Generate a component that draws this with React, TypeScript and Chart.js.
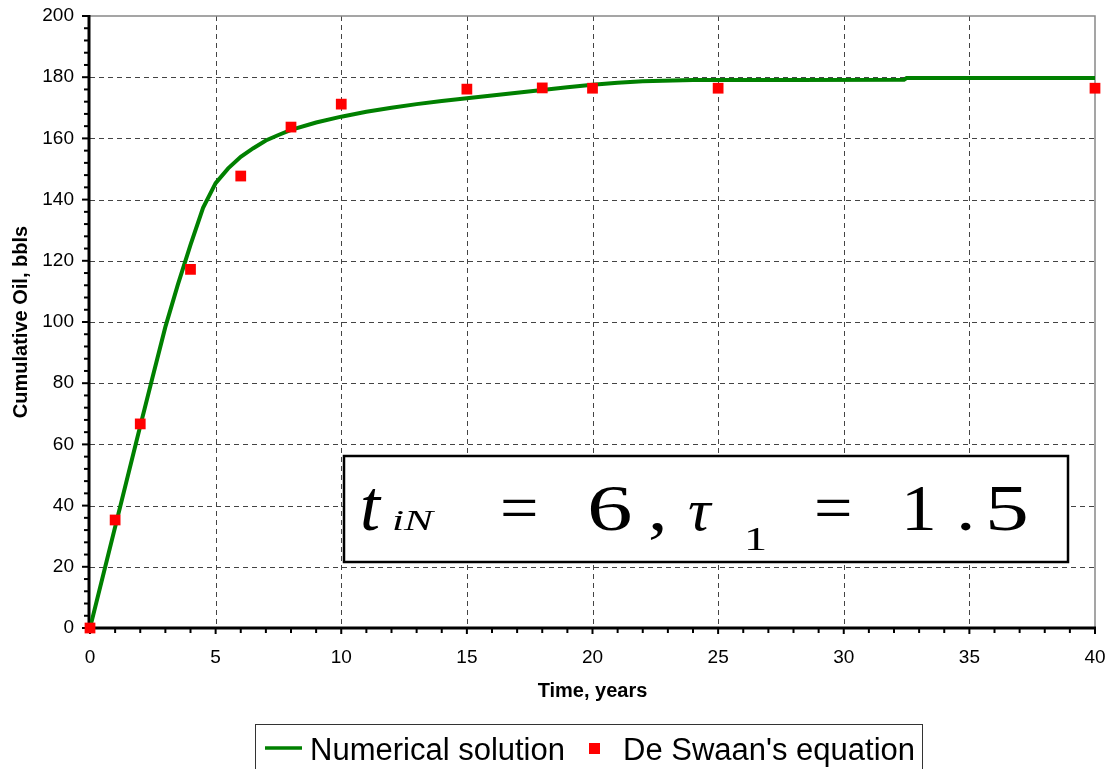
import React, { useEffect, useRef } from "react";
import { Chart, registerables } from "chart.js";

Chart.register(...registerables);

// Numerical solution (green curve)
const lineX = [0, 0.5, 1, 1.5, 2, 2.5, 3, 3.5, 4, 4.5, 5, 5.5, 6, 6.5, 7, 7.5, 8, 9, 10, 11, 12, 13, 14, 15, 16, 17, 18, 19, 20, 21, 22, 24, 28, 32.4, 32.5, 40];
const lineY = [0, 16.5, 33, 49.5, 66, 82.3, 98.4, 112.3, 125.2, 137.3, 145.4, 150.2, 154, 156.8, 159.3, 161.1, 162.8, 165.2, 167.1, 168.7, 170, 171.2, 172.2, 173.1, 174, 174.9, 175.8, 176.7, 177.5, 178.2, 178.7, 179.1, 179.1, 179.2, 179.7, 179.7];

// De Swaan's equation (red squares)
const ptX = [0, 1, 2, 4, 6, 8, 10, 15, 18, 20, 25, 40];
const ptY = [0, 35.3, 66.7, 117.2, 147.7, 163.7, 171.2, 176.1, 176.5, 176.4, 176.4, 176.4];

const xTicks = [0, 5, 10, 15, 20, 25, 30, 35, 40];
const yTicks = [0, 20, 40, 60, 80, 100, 120, 140, 160, 180, 200];

const seriesNames = ["Numerical solution", "De Swaan's equation"];
const xTitle = "Time, years";
const yTitle = "Cumulative Oil, bbls";

const SANS = "'Liberation Sans', Arial, sans-serif";
const SERIF = "'Liberation Serif', 'Times New Roman', serif";

const GREEN = "#008000";
const RED = "#ff0000";

const framePlugin = {
  id: "frame",
  beforeDatasetsDraw(chart: any) {
    const { ctx } = chart;
    const xs = chart.scales.x;
    const ys = chart.scales.y;
    const L = xs.getPixelForValue(0);
    const R = xs.getPixelForValue(40);
    const T = ys.getPixelForValue(200);
    const B = ys.getPixelForValue(0);
    ctx.save();
    // dashed grid
    ctx.strokeStyle = "#444";
    ctx.lineWidth = 1;
    ctx.setLineDash([5, 4]);
    for (const v of xTicks) {
      if (v === 0 || v === 40) continue;
      const px = Math.round(xs.getPixelForValue(v)) + 0.5;
      ctx.beginPath();
      ctx.moveTo(px, T);
      ctx.lineTo(px, B);
      ctx.stroke();
    }
    for (const v of yTicks) {
      if (v === 0 || v === 200) continue;
      const py = Math.round(ys.getPixelForValue(v)) + 0.5;
      ctx.beginPath();
      ctx.moveTo(L, py);
      ctx.lineTo(R, py);
      ctx.stroke();
    }
    ctx.setLineDash([]);
    // top / right border in gray
    ctx.strokeStyle = "#888";
    ctx.lineWidth = 1.5;
    ctx.beginPath();
    ctx.moveTo(L, T);
    ctx.lineTo(R, T);
    ctx.lineTo(R, B);
    ctx.stroke();

    // annotation box
    const bx = 344, by = 456, bw = 724, bh = 106;
    ctx.fillStyle = "#fff";
    ctx.fillRect(bx, by, bw, bh);
    ctx.strokeStyle = "#000";
    ctx.lineWidth = 2.5;
    ctx.strokeRect(bx, by, bw, bh);
    const glyphs: [string, number, number, string, number][] = [
      ["t", 360, 530, "italic 72px " + SERIF, 1.0],
      ["iN", 392, 530, "italic 29px " + SERIF, 1.5],
      ["=", 500, 530, "65px " + SERIF, 1.05],
      ["6", 587, 530, "65px " + SERIF, 1.4],
      [",", 648, 530, "65px " + SERIF, 1.2],
      ["\u03C4", 688, 530, "italic 60px " + SERIF, 1.05],
      ["1", 744, 550, "33px " + SERIF, 1.4],
      ["=", 814, 530, "65px " + SERIF, 1.05],
      ["1", 901, 530, "65px " + SERIF, 1.1],
      [".", 956, 530, "65px " + SERIF, 1.2],
      ["5", 985, 530, "65px " + SERIF, 1.35],
    ];
    ctx.fillStyle = "#000";
    ctx.textAlign = "left";
    ctx.textBaseline = "alphabetic";
    for (const [t, gx, gy, f, sx] of glyphs) {
      ctx.save();
      ctx.translate(gx, gy);
      ctx.scale(sx, 1);
      ctx.font = f;
      ctx.fillText(t, 0, 0);
      ctx.restore();
    }

    // axes lines
    ctx.strokeStyle = "#000";
    ctx.lineWidth = 3;
    ctx.beginPath();
    ctx.moveTo(L - 1, T - 1);
    ctx.lineTo(L - 1, B);
    ctx.lineTo(R + 1, B);
    ctx.stroke();
    // ticks
    ctx.lineWidth = 2;
    for (let v = 0; v <= 40; v += 1) {
      const px = xs.getPixelForValue(v);
      const major = v % 5 === 0;
      ctx.beginPath();
      ctx.moveTo(px, B);
      ctx.lineTo(px, B + (major ? 6 : 5));
      ctx.stroke();
    }
    for (let v = 0; v <= 200; v += 4) {
      const py = ys.getPixelForValue(v);
      const major = v % 20 === 0;
      ctx.beginPath();
      ctx.moveTo(L - 1, py);
      ctx.lineTo(L - (major ? 8 : 6), py);
      ctx.stroke();
    }
    ctx.restore();
  },
  afterDraw(chart: any) {
    const { ctx } = chart;
    ctx.save();
    // legend box
    ctx.strokeStyle = "#333";
    ctx.lineWidth = 1;
    ctx.strokeRect(255.5, 724.5, 667, 60);
    ctx.strokeStyle = GREEN;
    ctx.lineWidth = 3.5;
    ctx.beginPath();
    ctx.moveTo(265, 748);
    ctx.lineTo(302, 748);
    ctx.stroke();
    ctx.fillStyle = RED;
    ctx.fillRect(589, 743, 11, 11);
    ctx.fillStyle = "#000";
    ctx.font = "31px " + SANS;
    ctx.textBaseline = "alphabetic";
    ctx.textAlign = "left";
    ctx.fillText(seriesNames[0], 310, 760);
    ctx.fillText(seriesNames[1], 623, 760);
    ctx.restore();
  },
};

export default function App() {
  const ref = useRef<HTMLCanvasElement | null>(null);
  useEffect(() => {
    if (!ref.current) return;
    const chart = new Chart(ref.current, {
      type: "scatter",
      data: {
        datasets: [
          {
            label: seriesNames[0],
            data: lineX.map((x, i) => ({ x, y: lineY[i] })),
            showLine: true,
            borderColor: GREEN,
            backgroundColor: GREEN,
            borderWidth: 4,
            pointRadius: 0,
            tension: 0,
            order: 2,
          },
          {
            label: seriesNames[1],
            data: ptX.map((x, i) => ({ x, y: ptY[i] })),
            pointStyle: "rect",
            pointRadius: 7.6,
            pointBorderWidth: 0,
            backgroundColor: RED,
            borderColor: RED,
            clip: false,
            order: 1,
          } as any,
        ],
      },
      options: {
        animation: false,
        responsive: false,
        maintainAspectRatio: false,
        layout: { autoPadding: false, padding: { left: 0, top: 16, right: 14, bottom: 59 } },
        plugins: { legend: { display: false }, tooltip: { enabled: false } },
        scales: {
          x: {
            type: "linear",
            min: 0,
            max: 40,
            ticks: {
              stepSize: 5,
              autoSkip: false,
              maxRotation: 0,
              padding: 0,
              color: "#000",
              font: { family: SANS, size: 19 },
            },
            grid: { display: false, drawTicks: true, tickLength: 18 },
            border: { display: false },
            title: {
              display: true,
              text: xTitle,
              color: "#000",
              font: { family: SANS, size: 20, weight: "bold" },
              padding: { top: 0, bottom: 7 },
            },
            afterFit: (s: any) => {
              s.height = 82;
            },
          },
          y: {
            type: "linear",
            min: 0,
            max: 200,
            ticks: {
              stepSize: 20,
              autoSkip: false,
              padding: 0,
              color: "#000",
              font: { family: SANS, size: 19 },
            },
            grid: { display: false, drawTicks: true, tickLength: 16 },
            border: { display: false },
            title: {
              display: true,
              text: yTitle,
              color: "#000",
              font: { family: SANS, size: 20, weight: "bold" },
              padding: { top: 9, bottom: 0 },
            },
            afterFit: (s: any) => {
              s.width = 90;
            },
          },
        },
      },
      plugins: [framePlugin],
    });
    return () => chart.destroy();
  }, []);
  return (
    <div style={{ position: "absolute", left: 0, top: 0, width: 1109, height: 769, background: "#fff" }}>
      <canvas ref={ref} width={1109} height={769} style={{ width: 1109, height: 769, display: "block" }} />
    </div>
  );
}
